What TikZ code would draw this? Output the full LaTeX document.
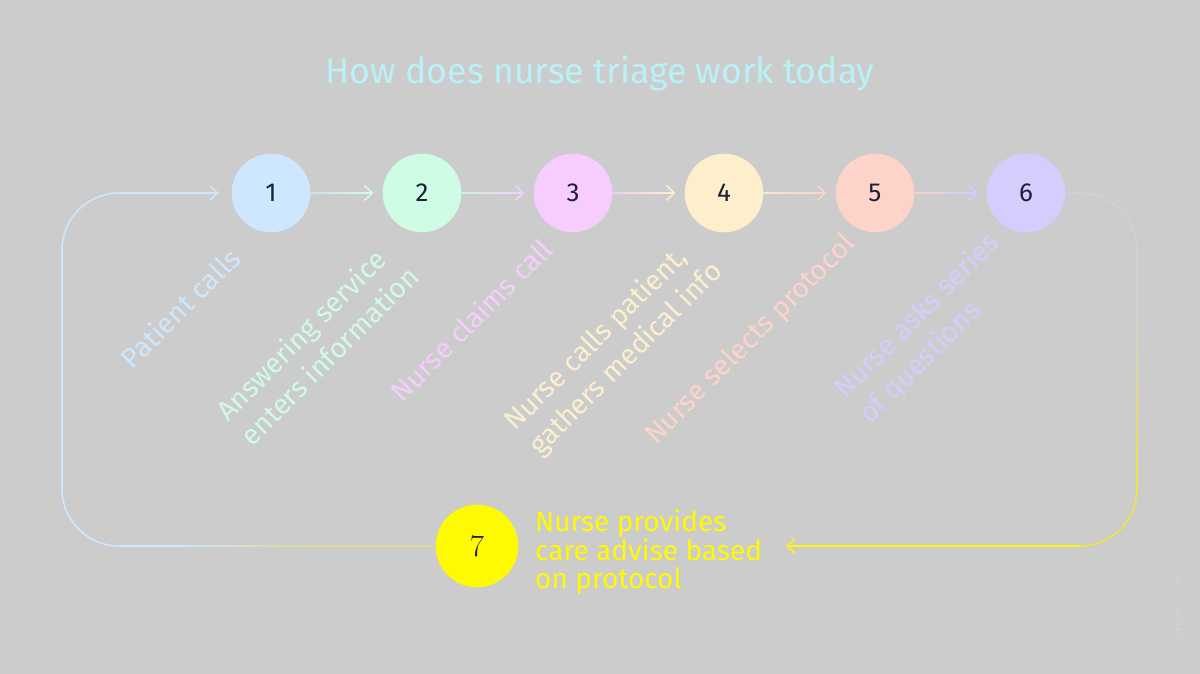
\documentclass[tikz,border=0pt]{standalone}
\usepackage{fontspec}
\newfontfamily\plex{Fira Sans}
\usetikzlibrary{arrows.meta,calc}
\definecolor{bg}{HTML}{CCCCCC}
\definecolor{cA}{HTML}{CDE7FE}
\definecolor{cB}{HTML}{CFFCE4}
\definecolor{cC}{HTML}{F7CCFE}
\definecolor{cD}{HTML}{FEEFCC}
\definecolor{cE}{HTML}{FED3CA}
\definecolor{cF}{HTML}{D4CDFE}
\definecolor{cG}{HTML}{FFFA00}
\definecolor{titlec}{HTML}{B8F2F8}
\definecolor{numc}{HTML}{1E2235}
\definecolor{wmark}{HTML}{D3D3D3}
\definecolor{rtop}{HTML}{D2CFDD}
\definecolor{rbot}{HTML}{EEE63A}
\definecolor{lmid}{HTML}{DCDA92}
\begin{document}
\begin{tikzpicture}[x=1pt,y=-1pt,
  stepnode/.style={circle, minimum size=78.6pt, inner sep=0pt, text=numc,
    font=\plex\fontsize{26}{26}\selectfont},
  lab/.style={rotate=45, align=left, inner sep=0pt,
    font=\plex\fontsize{28}{35}\selectfont},
  tipb/.tip={Straight Barb[length=8pt,width=15pt,line width=1.5pt]},
  conn/.style={line width=1.5pt, -tipb, shorten >=9pt},
  loopline/.style={line width=1.6pt},
  ]
\fill[bg] (0,0) rectangle (1200,674);
\useasboundingbox (0,0) rectangle (1200,674);

% title
\node[anchor=base, text=titlec, inner sep=0pt, font=\plex\fontsize{35.6}{36}\selectfont]
  (title) at (600,84) {How does nurse triage work today};

% step circles
\node[stepnode, fill=cA] (n1) at (271,193) {1};
\node[stepnode, fill=cB] (n2) at (422,193) {2};
\node[stepnode, fill=cC] (n3) at (573,193) {3};
\node[stepnode, fill=cD] (n4) at (724,193) {4};
\node[stepnode, fill=cE] (n5) at (875,193) {5};
\node[stepnode, fill=cF] (n6) at (1026,193) {6};
\node[circle, minimum size=82.6pt, inner sep=0pt, fill=cG, text=numc,
  font=\fontsize{31}{31}\selectfont] (n7) at (477,546) {7};

% connectors between circles
\draw[conn, cB] (n1) -- (n2);
\draw[conn, cC] (n2) -- (n3);
\draw[conn, cD] (n3) -- (n4);
\draw[conn, cE] (n4) -- (n5);
\draw[conn, cF] (n5) -- (n6);
\shade[left color=cA!70!bg, right color=cB] ($(n1.east)+(0,-0.75)$) rectangle ($(n2.west)+(-14,0.75)$);
\shade[left color=cB!80!bg, right color=cC] ($(n2.east)+(0,-0.75)$) rectangle ($(n3.west)+(-14,0.75)$);
\shade[left color=cC!80!bg, right color=cD] ($(n3.east)+(0,-0.75)$) rectangle ($(n4.west)+(-14,0.75)$);
\shade[left color=cD!80!bg, right color=cE] ($(n4.east)+(0,-0.75)$) rectangle ($(n5.west)+(-14,0.75)$);
\shade[left color=cE!80!bg, right color=cF] ($(n5.east)+(0,-0.75)$) rectangle ($(n6.west)+(-14,0.75)$);

% left loop (7 back to 1)
\draw[loopline, -tipb, cA, shorten >=12.7pt] (n7.west) [rounded corners=57pt] -| (62,193) -- (n1.west);
\fill[lmid] (300,545.2) rectangle ($(n7.west)+(0,0.8)$);
\shade[left color=cA, right color=lmid] (180,545.2) rectangle (301,546.8);

% right loop (6 down to 7)
\coordinate (endR) at (786,546);
\draw[loopline, -{Straight Barb[length=8pt,width=15pt,line width=1.5pt,color=cG]}, rtop]
  (n6.east) [rounded corners=57pt] -| (1137,546) -- (endR);
\shade[top color=rtop, bottom color=rbot] (1136.2,300) rectangle (1137.8,490);
\draw[loopline, rbot] (1137,489) arc[start angle=0, end angle=90, radius=57];
\draw[loopline, cG] (1080,546) -- (790,546);

% rotated labels
\node[lab, text=cA] (l1) at (180,308) {Patient calls};
\node[lab, text=cB] (l2) at (317,343) {Answering service\\enters information};
\node[lab, text=cC] (l3) at (471,320) {Nurse claims call};
\node[lab, text=cD] (l4) at (614,347) {Nurse calls patient,\\gathers medical info};
\node[lab, text=cE] (l5) at (751,340) {Nurse selects protocol};
\node[lab, text=cF] (l6) at (930,329) {Nurse asks series\\of questions};

% label of step 7
\node[anchor=west, align=left, inner sep=0pt, text=cG,
  font=\plex\fontsize{28}{27.5}\selectfont] (l7) at (535,552)
  {Nurse provides\\care advise based\\on protocol};

% watermark
\node[rotate=90, text=wmark, inner sep=0pt, font=\ttfamily\fontsize{12.5}{12.5}\selectfont]
  (wm) at (1179,607) {proxet.com};
\end{tikzpicture}
\end{document}
